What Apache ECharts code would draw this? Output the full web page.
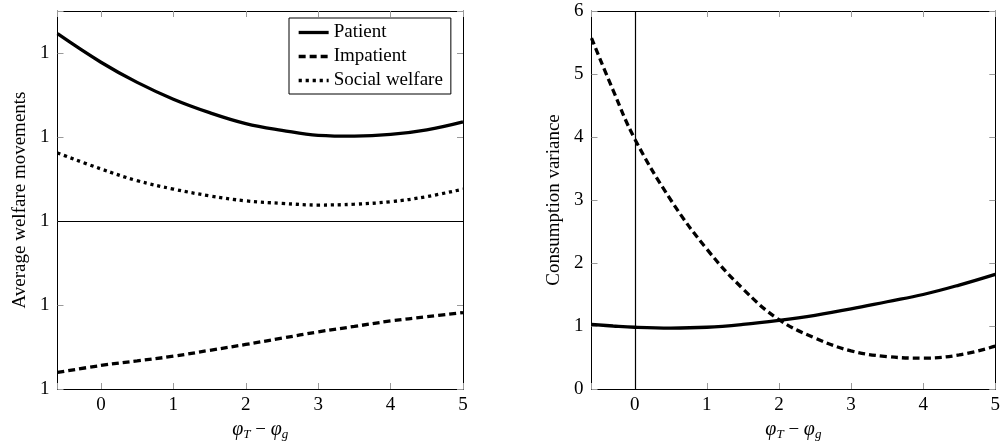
<!DOCTYPE html>
<html>
<head>
<meta charset="utf-8">
<script src="https://cdn.jsdelivr.net/npm/echarts@6/dist/echarts.min.js"></script>
<style>html,body{margin:0;padding:0;background:#fff}#c{width:1003px;height:446px}</style>
</head>
<body>
<div id="c"></div>
<script>
// ---- data ----
const xValues = [-0.6, 0, 0.5, 1, 1.5, 2, 2.5, 3, 3.5, 4, 4.5, 5];
const welfarePatient = [4.23, 3.89, 3.65, 3.45, 3.29, 3.16, 3.08, 3.02, 3.01, 3.03, 3.085, 3.18];
const welfareImpatient = [0.197, 0.28, 0.335, 0.39, 0.46, 0.53, 0.605, 0.68, 0.745, 0.81, 0.86, 0.91];
const welfareSocial = [2.81, 2.62, 2.48, 2.38, 2.30, 2.24, 2.21, 2.19, 2.20, 2.23, 2.29, 2.38];
const welfareRefLine = 2;

const xValuesVar = [-0.6, -0.3, 0, 0.5, 1, 1.5, 2, 2.5, 3, 3.5, 4, 4.5, 5];
const variancePatient = [1.025, 1.0, 0.98, 0.967, 0.98, 1.025, 1.09, 1.17, 1.27, 1.385, 1.5, 1.65, 1.82];
const varianceImpatient = [5.57, 4.74, 3.97, 3.0, 2.22, 1.59, 1.10, 0.81, 0.605, 0.515, 0.49, 0.54, 0.68];
const varianceRefLine = 0;

const leftYTickLabel = '1';
const xMin = -0.6, xMax = 5;
const seriesNames = ['Patient', 'Impatient', 'Social welfare'];
const xAxisTitle = '{i|φ}{s|T} − {i|φ}{s|g}';
const leftYTitle = 'Average welfare movements';
const rightYTitle = 'Consumption variance';

// ---- chart ----
const FONT = 'Liberation Serif';
const FS = 19;
const pair = (xs, ys) => xs.map((x, i) => [x, ys[i]]);
const tickStyle = {show: true, inside: true, length: 6, lineStyle: {color: '#9a9a9a', width: 1}};
const axisLine = {show: true, onZero: false, lineStyle: {color: '#000', width: 1}};
const labelBase = {color: '#000', fontFamily: FONT, fontSize: FS};

function mainX(grid) {
  return {
    type: 'value', gridIndex: grid, min: xMin, max: xMax, position: 'bottom',
    axisLine, axisTick: tickStyle, splitLine: {show: false},
    axisLabel: Object.assign({}, labelBase, {margin: 7,
      formatter: v => Number.isInteger(v) ? String(v) : ''}),
    name: xAxisTitle, nameLocation: 'middle', nameGap: 30,
    nameTextStyle: {color: '#000', fontFamily: FONT, fontSize: FS,
      rich: {i: {fontFamily: FONT, fontStyle: 'italic', fontSize: 20, color: '#000'},
             s: {fontFamily: FONT, fontStyle: 'italic', fontSize: 13, verticalAlign: 'bottom', padding: [9, 0, 0, 0], color: '#000'}}}
  };
}
function mirrorX(grid) {
  return {type: 'value', gridIndex: grid, min: xMin, max: xMax, position: 'top',
    axisLine, axisTick: tickStyle, axisLabel: {show: false}, splitLine: {show: false}};
}
function mirrorY(grid, min, max) {
  return {type: 'value', gridIndex: grid, min, max, interval: 1, position: 'right',
    axisLine, axisTick: tickStyle, axisLabel: {show: false}, splitLine: {show: false}};
}

const lineW = 3.3;
const chart = echarts.init(document.getElementById('c'), null, {renderer: 'canvas'});
chart.setOption({
  animation: false,
  backgroundColor: '#fff',
  grid: [
    {left: 57.5, right: 540, top: 11, bottom: 54.5},
    {left: 591.5, right: 7, top: 11, bottom: 54.5}
  ],
  legend: {
    data: seriesNames, orient: 'vertical', left: 289, top: 18,
    itemWidth: 30, itemHeight: 14, itemGap: 5,
    padding: [5, 8, 4, 8],
    backgroundColor: '#fff', borderColor: '#000', borderWidth: 1, borderRadius: 0,
    itemStyle: {opacity: 0},
    lineStyle: {width: 3.3},
    textStyle: {color: '#000', fontFamily: FONT, fontSize: FS, lineHeight: 18, padding: [1, 0, 0, 0]}
  },
  xAxis: [mainX(0), mirrorX(0), mainX(1), mirrorX(1)],
  yAxis: [
    {type: 'value', gridIndex: 0, min: 0, max: 4.5, interval: 1, position: 'left',
      axisLine, axisTick: tickStyle, splitLine: {show: false},
      axisLabel: Object.assign({}, labelBase, {margin: 8,
        formatter: v => Number.isInteger(v) ? leftYTickLabel : ''}),
      name: leftYTitle, nameLocation: 'middle', nameGap: 28, nameRotate: 90,
      nameTextStyle: {color: '#000', fontFamily: FONT, fontSize: FS}},
    mirrorY(0, 0, 4.5),
    {type: 'value', gridIndex: 1, min: 0, max: 6, interval: 1, position: 'left',
      axisLine, axisTick: tickStyle, splitLine: {show: false},
      axisLabel: Object.assign({}, labelBase, {margin: 8}),
      name: rightYTitle, nameLocation: 'middle', nameGap: 28, nameRotate: 90,
      nameTextStyle: {color: '#000', fontFamily: FONT, fontSize: FS}},
    mirrorY(1, 0, 6)
  ],
  series: [
    {name: seriesNames[0], type: 'line', xAxisIndex: 0, yAxisIndex: 0, smooth: 0.4, symbol: 'none',
      data: pair(xValues, welfarePatient), lineStyle: {color: '#000', width: lineW, type: 'solid'},
      itemStyle: {color: '#000'}, z: 3,
      markLine: {silent: true, symbol: 'none', label: {show: false},
        lineStyle: {color: '#000', width: 1.2, type: 'solid'}, data: [{yAxis: welfareRefLine}]}},
    {name: seriesNames[1], type: 'line', xAxisIndex: 0, yAxisIndex: 0, smooth: 0.4, symbol: 'none',
      data: pair(xValues, welfareImpatient), lineStyle: {color: '#000', width: lineW, type: [7, 4]},
      itemStyle: {color: '#000'}, z: 3},
    {name: seriesNames[2], type: 'line', xAxisIndex: 0, yAxisIndex: 0, smooth: 0.4, symbol: 'none',
      data: pair(xValues, welfareSocial), lineStyle: {color: '#000', width: lineW, type: [3.2, 3.8]},
      itemStyle: {color: '#000'}, z: 3},
    {name: 'vp', type: 'line', xAxisIndex: 2, yAxisIndex: 2, smooth: 0.4, symbol: 'none',
      data: pair(xValuesVar, variancePatient), lineStyle: {color: '#000', width: lineW, type: 'solid'}, z: 3,
      markLine: {silent: true, symbol: 'none', label: {show: false},
        lineStyle: {color: '#000', width: 1.2, type: 'solid'}, data: [{xAxis: varianceRefLine}]}},
    {name: 'vi', type: 'line', xAxisIndex: 2, yAxisIndex: 2, smooth: 0.4, symbol: 'none',
      data: pair(xValuesVar, varianceImpatient), lineStyle: {color: '#000', width: lineW, type: [7, 4]}, z: 3}
  ]
});
</script>
</body>
</html>
